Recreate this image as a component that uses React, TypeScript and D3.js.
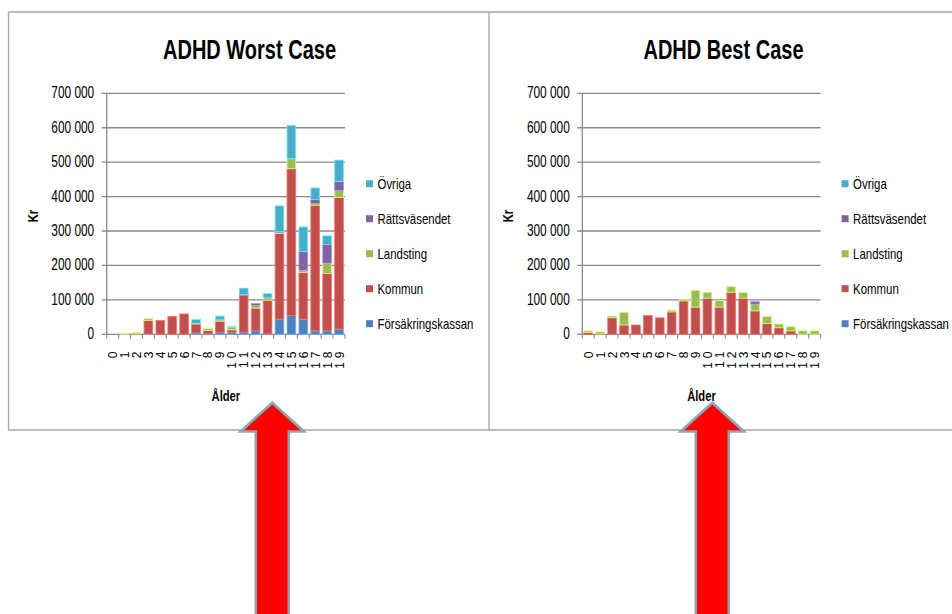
import React from "react";
import * as d3 from "d3";

const ages = ["0","1","2","3","4","5","6","7","8","9","10","11","12","13","14","15","16","17","18","19"];
const seriesNames = ["Försäkringskassan", "Kommun", "Landsting", "Rättsväsendet", "Övriga"];
const seriesColors = ["#4F81BD", "#C0504D", "#9BBB59", "#8064A2", "#4BACC6"];
const yTicks = [0, 100000, 200000, 300000, 400000, 500000, 600000, 700000];

// ADHD Worst Case
const worstForsakringskassan = [0, 0, 0, 1000, 0, 0, 0, 4000, 1000, 5000, 5000, 5000, 10000, 1000, 44000, 55000, 44000, 10000, 10000, 15000];
const worstKommun = [0, 0, 1000, 39000, 40000, 52000, 59000, 26000, 10000, 33000, 8000, 108000, 66000, 98000, 249000, 426000, 136000, 365000, 167000, 382000];
const worstLandsting = [0, 1500, 4000, 5000, 0, 0, 0, 2000, 5000, 4000, 8000, 0, 8000, 7000, 3000, 29000, 6000, 5000, 30000, 21000];
const worstRattsvasendet = [0, 0, 0, 0, 0, 0, 0, 0, 0, 0, 0, 3000, 5000, 0, 2000, 0, 54000, 12000, 54000, 26000];
const worstOvriga = [0, 0, 0, 0, 0, 0, 0, 11000, 0, 11000, 1000, 18000, 0, 12000, 75000, 97000, 72000, 33000, 25000, 62000];

// ADHD Best Case
const bestForsakringskassan = [0, 0, 0, 0, 0, 0, 0, 0, 0, 0, 0, 0, 0, 0, 0, 0, 0, 0, 0, 0];
const bestKommun = [5000, 1000, 48000, 27000, 27000, 55000, 48000, 65000, 97000, 79000, 105000, 79000, 122000, 105000, 68000, 31000, 19000, 10000, 0, 0];
const bestLandsting = [5000, 6000, 5000, 37000, 0, 0, 0, 5000, 5000, 48000, 17000, 19000, 16000, 17000, 20000, 21000, 11000, 12000, 10000, 10000];
const bestRattsvasendet = [0, 0, 0, 0, 0, 0, 0, 0, 0, 0, 0, 0, 0, 0, 6500, 0, 0, 0, 0, 0];
const bestOvriga = [0, 0, 0, 0, 0, 0, 0, 0, 0, 0, 0, 0, 0, 0, 0, 0, 0, 0, 0, 0];

const panels = [
  { title: "ADHD Worst Case", series: [worstForsakringskassan, worstKommun, worstLandsting, worstRattsvasendet, worstOvriga], ox: 0, titleX: 249.5 },
  { title: "ADHD Best Case", series: [bestForsakringskassan, bestKommun, bestLandsting, bestRattsvasendet, bestOvriga], ox: 475.6, titleX: 723.5 },
];

const FONT = "'Liberation Sans', Arial, sans-serif";
const GRID = "#8a8a8a";

function Panel({ title, series, ox, titleX }: any) {
  const x0 = 106.7 + ox;
  const x1 = 345 + ox;
  const yBottom = 334.3;
  const yTop = 93.3;
  const x = d3.scaleBand<string>().domain(ages).range([x0, x1]).paddingInner(0.27).paddingOuter(0.135);
  const xb = d3.scaleBand<string>().domain(ages).range([x0, x1]);
  const y = d3.scaleLinear().domain([0, 700000]).range([yBottom, yTop]);
  const rows = ages.map((a, i) => {
    const r: any = { age: a };
    seriesNames.forEach((n, k) => (r[n] = series[k][i]));
    return r;
  });
  const stacked = d3.stack<any>().keys(seriesNames)(rows);
  const fmt = (v: number) => d3.format(",")(v).replace(/,/g, " ");
  const legendX = 366 + ox;

  return (
    <g>
      <text transform={`translate(${titleX},59) scale(0.77,1.05)`} textAnchor="middle" fontFamily={FONT} fontWeight="bold" fontSize={26} fill="#000">
        {title}
      </text>
      {yTicks.map((t) => (
        <g key={t}>
          <line x1={x0 - 5} x2={t === 0 ? x0 : x1} y1={y(t)} y2={y(t)} stroke={GRID} strokeWidth={1.3} />
          <text transform={`translate(${x0 - 12.5},${y(t) + 5}) scale(0.72,1)`} textAnchor="end" fontFamily={FONT} fontSize={16.5} fill="#000">
            {fmt(t)}
          </text>
        </g>
      ))}
      <line x1={x0} x2={x0} y1={yTop} y2={yBottom} stroke={GRID} strokeWidth={1.3} />
      <line x1={x0} x2={x1} y1={yBottom} y2={yBottom} stroke={GRID} strokeWidth={1.3} />
      {ages.map((a) => (
        <line key={a} x1={xb(a)!} x2={xb(a)!} y1={yBottom} y2={yBottom + 4.5} stroke={GRID} strokeWidth={1.1} />
      ))}
      <line x1={x1} x2={x1} y1={yBottom} y2={yBottom + 4.5} stroke={GRID} strokeWidth={1.1} />
      {stacked.map((s, k) => (
        <g key={s.key} fill={seriesColors[k]} stroke={d3.color(seriesColors[k])!.brighter(0.9).formatHex()} strokeWidth={0.8}>
          {s.map((d: any, i: number) =>
            d[1] - d[0] > 0 ? (
              <rect key={i} x={x(ages[i])!} width={x.bandwidth()} y={y(d[1])} height={y(d[0]) - y(d[1])} />
            ) : null
          )}
        </g>
      ))}
      {ages.map((a) => (
        <text
          key={a}
          transform={`translate(${xb(a)! + xb.bandwidth() / 2 + 4.5},347.5) rotate(-90)`}
          textAnchor="end"
          fontFamily={FONT}
          fontSize={12}
          letterSpacing={4}
          fill="#000"
        >
          {a}
        </text>
      ))}
      <text transform={`translate(${(x0 + x1) / 2},401) scale(0.8,1)`} textAnchor="middle" fontFamily={FONT} fontWeight="bold" fontSize={14} fill="#000">
        Ålder
      </text>
      <text transform={`translate(${37.5 + ox},216) rotate(-90) scale(0.8,1)`} textAnchor="middle" fontFamily={FONT} fontWeight="bold" fontSize={14} fill="#000">
        Kr
      </text>
      {seriesNames
        .slice()
        .reverse()
        .map((n, j) => {
          const k = seriesNames.length - 1 - j;
          const cy = 183.7 + j * 35;
          return (
            <g key={n}>
              <rect x={legendX} y={cy - 3.5} width={7} height={7} fill={seriesColors[k]} />
              <text transform={`translate(${legendX + 11.5},${cy + 5.2}) scale(0.8,1.05)`} fontFamily={FONT} fontSize={14.3} fill="#000">
                {n}
              </text>
            </g>
          );
        })}
    </g>
  );
}

function Arrow({ tipX }: { tipX: number }) {
  const tipY = 402.7;
  const baseY = 431.5;
  const headHalf = 31.7;
  const shaftHalf = 16.5;
  const bottom = 640;
  const pts = [
    [tipX, tipY],
    [tipX + headHalf, baseY],
    [tipX + shaftHalf, baseY],
    [tipX + shaftHalf, bottom],
    [tipX - shaftHalf, bottom],
    [tipX - shaftHalf, baseY],
    [tipX - headHalf, baseY],
  ];
  return <path d={d3.line()(pts as any)! + "Z"} fill="#FF0000" stroke="#8fa6aa" strokeWidth={2.6} strokeLinejoin="miter" />;
}

export default function App() {
  return (
    <svg width={952} height={614} style={{ position: "absolute", left: 0, top: 0, display: "block", background: "#fff" }}>
      <rect x={0} y={0} width={952} height={614} fill="#fff" />
      <g stroke="#a6a6a6" strokeWidth={1.3} fill="none">
        <line x1={8.5} x2={960} y1={12} y2={12} />
        <line x1={8.5} x2={960} y1={430} y2={430} />
        <line x1={8.5} x2={8.5} y1={12} y2={430} />
        <line x1={489} x2={489} y1={12} y2={430} />
      </g>
      {panels.map((p) => (
        <Panel key={p.title} {...p} />
      ))}
      <Arrow tipX={272.3} />
      <Arrow tipX={712.3} />
    </svg>
  );
}
